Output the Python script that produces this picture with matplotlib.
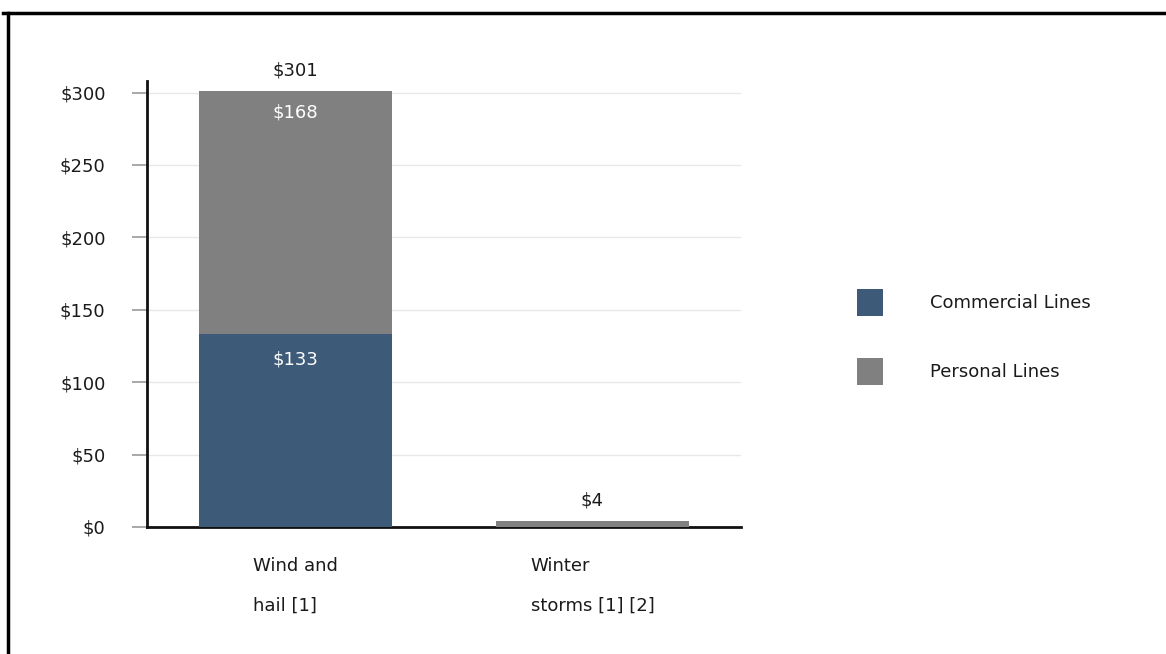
import matplotlib
matplotlib.use("Agg")
import matplotlib.pyplot as plt
from matplotlib.lines import Line2D
from matplotlib.patches import Patch

categories = ["Wind and\nhail [1]", "Winter\nstorms [1] [2]"]
commercial = [133, 0]
personal = [168, 4]
totals = [301, 4]
yticks = [0, 50, 100, 150, 200, 250, 300]
ytick_labels = ["$0", "$50", "$100", "$150", "$200", "$250", "$300"]
series_names = ["Commercial Lines", "Personal Lines"]

BLUE = "#3d5a78"
GRAY = "#808080"
TXT = "#1a1a1a"
FS = 13

plt.rcParams['font.family'] = ['DejaVu Sans']
fig = plt.figure(figsize=(11.66, 6.54), dpi=100)
ax = fig.add_axes([147/1166, 1-527/654, (741-147)/1166, (527-81)/654])

x = list(range(len(categories)))
w = 0.65
ax.bar(x, commercial, width=w, color=BLUE, zorder=3)
ax.bar(x, personal, width=w, bottom=commercial, color=GRAY, zorder=3)

ax.set_xlim(-0.5, 1.5)
ax.set_ylim(0, 308)
ax.set_yticks(yticks)
ax.set_yticklabels(ytick_labels, fontsize=FS, color=TXT)
ax.yaxis.grid(True, color="#e8e8e8", linewidth=1, zorder=0)
ax.tick_params(axis='y', length=10.8, width=1.2, color="#999999", pad=19)
ax.set_xticks(x)
ax.set_xticklabels([])
ax.tick_params(axis='x', length=0)
for s in ["top", "right"]:
    ax.spines[s].set_visible(False)
for s in ["left", "bottom"]:
    ax.spines[s].set_linewidth(2)
    ax.spines[s].set_color("#111111")

# category labels
for xi, lab in zip(x, categories):
    ax.text(xi, -21, lab, ha='center', va='top', multialignment='left',
            fontsize=FS, color=TXT, linespacing=2.5, transform=ax.transData)

# value labels
for xi, c, p, t in zip(x, commercial, personal, totals):
    if c >= 20:
        ax.text(xi, c - 17, f"${c}", ha='center', va='center', color='white', fontsize=FS, zorder=4)
    if p >= 20:
        ax.text(xi, c + p - 15, f"${p}", ha='center', va='center', color='white', fontsize=FS, zorder=4)
    ax.text(xi, t + 14, f"${t}", ha='center', va='center', color=TXT, fontsize=FS, zorder=4)

# legend
handles = [Patch(facecolor=BLUE), Patch(facecolor=GRAY)]
leg = fig.legend(handles, series_names, loc='upper left',
                 bbox_to_anchor=(857/1166, 1-289/654), frameon=False,
                 fontsize=FS, handlelength=1.44, handleheight=1.92,
                 handletextpad=2.6, labelspacing=2.32, borderpad=0, borderaxespad=0)
for t in leg.get_texts():
    t.set_color(TXT)

# frame border (top and left visible)
fig.add_artist(Line2D([3/1166, 1.0], [1-13/654, 1-13/654], transform=fig.transFigure,
                      color='black', linewidth=2.5))
fig.add_artist(Line2D([8/1166, 8/1166], [0, 1-13/654], transform=fig.transFigure,
                      color='black', linewidth=2.5))

fig.savefig("out.png", dpi=100)
